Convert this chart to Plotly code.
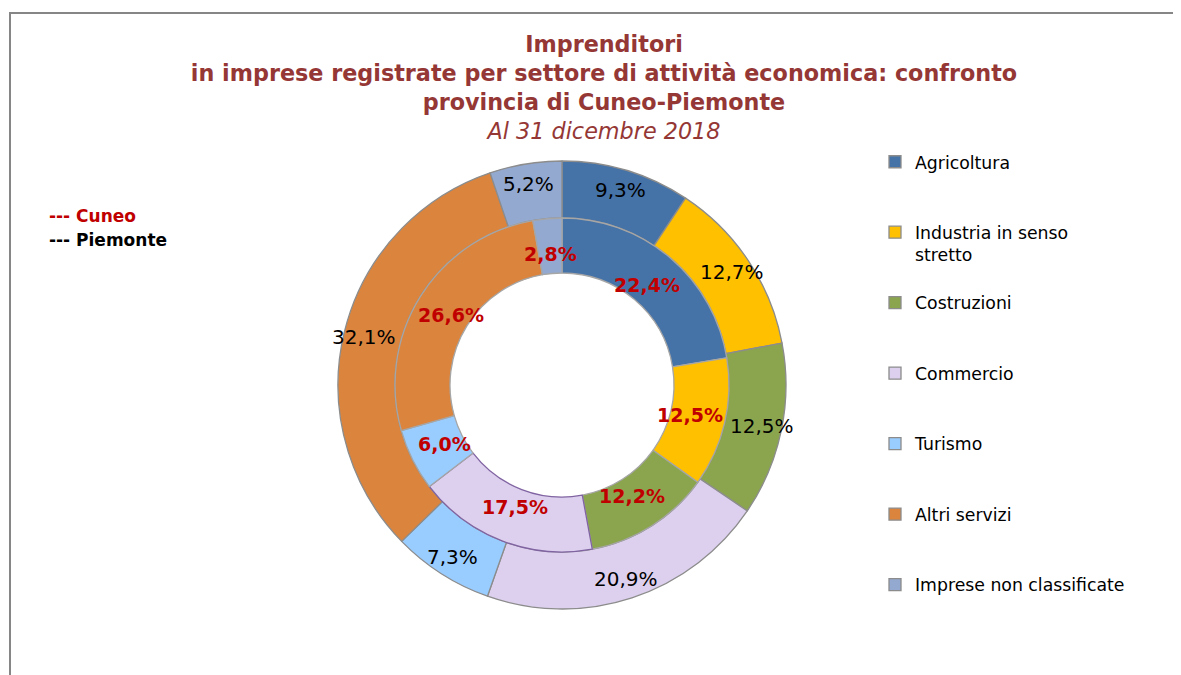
import math
import plotly.graph_objects as go

# ---- data ----
categories = ["Agricoltura", "Industria in senso<br>stretto", "Costruzioni", "Commercio",
              "Turismo", "Altri servizi", "Imprese non classificate"]
piemonte = [9.3, 12.7, 12.5, 20.9, 7.3, 32.1, 5.2]
cuneo = [22.4, 12.5, 12.2, 17.5, 6.0, 26.6, 2.8]
colors = ["#4572A7", "#FFC000", "#8BA54F", "#DDD0EE", "#99CCFF", "#DB843D", "#93A9CF"]

title_lines = ["Imprenditori",
               "in imprese registrate per settore di attività economica: confronto",
               "provincia di Cuneo-Piemonte"]
subtitle = "Al 31 dicembre 2018"

W, H = 1181, 675
cx, cy = 554, 377          # pie centre in figure pixels
r_out, r_mid, r_hole = 224, 167, 112


def pad(lbl):
    n = lbl.count("<br>") + 1
    return lbl + "<br>\u00a0" * (3 - n)


leg_labels = [pad(c) for c in categories]
clean = [c.replace("<br>", " ") for c in categories]


def dom(r):
    return dict(x=[(cx - r) / W, (cx + r) / W], y=[(H - cy - r) / H, (H - cy + r) / H])


def fmt(v):
    return f"{v:.1f}".replace(".", ",") + "%"


def ring_labels(values, r_in, r_ex, frac, font):
    anns = []
    total = sum(values)
    cum = 0.0
    rm = r_in + frac * (r_ex - r_in)
    for v in values:
        th = math.radians((cum + v / 2) / total * 360)
        cum += v
        px = cx + rm * math.sin(th)
        py = cy - rm * math.cos(th)
        anns.append(dict(text=fmt(v), x=px / W, y=1 - py / H, xref="paper", yref="paper",
                         xanchor="center", yanchor="middle", showarrow=False, font=font))
    return anns


line_out = ["#8C8C8C"] * 7
line_in = ["#A6A6A6"] * 7
line_in[3] = "#8064A2"

fig = go.Figure()
fig.add_trace(go.Pie(
    labels=leg_labels, values=piemonte, customdata=clean, name="Piemonte",
    domain=dom(r_out), hole=r_mid / r_out, sort=False, direction="clockwise", rotation=0,
    marker=dict(colors=colors, line=dict(color=line_out, width=1.3)),
    textinfo="none",
    hovertemplate="Piemonte<br>%{customdata}: %{value:.1f}%<extra></extra>",
))
fig.add_trace(go.Pie(
    labels=leg_labels, values=cuneo, customdata=clean, name="Cuneo",
    domain=dom(r_mid), hole=r_hole / r_mid, sort=False, direction="clockwise", rotation=0,
    marker=dict(colors=colors, line=dict(color=line_in, width=1.3)),
    textinfo="none",
    hovertemplate="Cuneo<br>%{customdata}: %{value:.1f}%<extra></extra>",
))

title_text = ("<b>" + "<br>".join(title_lines) + "</b><br><i>" + subtitle + "</i>")

annotations = [
    dict(text="<b>--- Cuneo</b>", x=39 / W, y=1 - 208 / H, xref="paper", yref="paper",
         xanchor="left", yanchor="middle", showarrow=False,
         font=dict(family="DejaVu Sans", size=17, color="#C00000")),
    dict(text="<b>--- Piemonte</b>", x=39 / W, y=1 - 232 / H, xref="paper", yref="paper",
         xanchor="left", yanchor="middle", showarrow=False,
         font=dict(family="DejaVu Sans", size=17, color="#000000")),
]
annotations += ring_labels(piemonte, r_mid, r_out, 0.65,
                           dict(family="DejaVu Sans", size=20, color="#000000"))
annotations += ring_labels(cuneo, r_hole, r_mid, 0.35,
                           dict(family="DejaVu Sans", size=19, color="#C00000", weight="bold"))

fig.update_layout(
    width=W, height=H,
    margin=dict(l=0, r=0, t=0, b=0),
    paper_bgcolor="white", plot_bgcolor="white",
    font=dict(family="DejaVu Sans", color="#000000"),
    title=dict(text=title_text, x=596 / W, xanchor="center", y=1 - 44 / H, yanchor="top",
               font=dict(family="DejaVu Sans", size=22.3, color="#953735")),
    showlegend=True,
    legend=dict(x=867 / W, xanchor="left", y=1 - 136 / H, yanchor="top", valign="top",
                font=dict(family="DejaVu Sans", size=17.3, color="#000000"),
                bgcolor="rgba(0,0,0,0)", traceorder="normal"),
    shapes=[dict(type="rect", xref="paper", yref="paper",
                 x0=2 / W, x1=1.02, y0=-0.02, y1=1 - 5 / H,
                 line=dict(color="#868686", width=2), fillcolor="rgba(0,0,0,0)")],
    annotations=annotations,
)

fig.write_html("out.html")
